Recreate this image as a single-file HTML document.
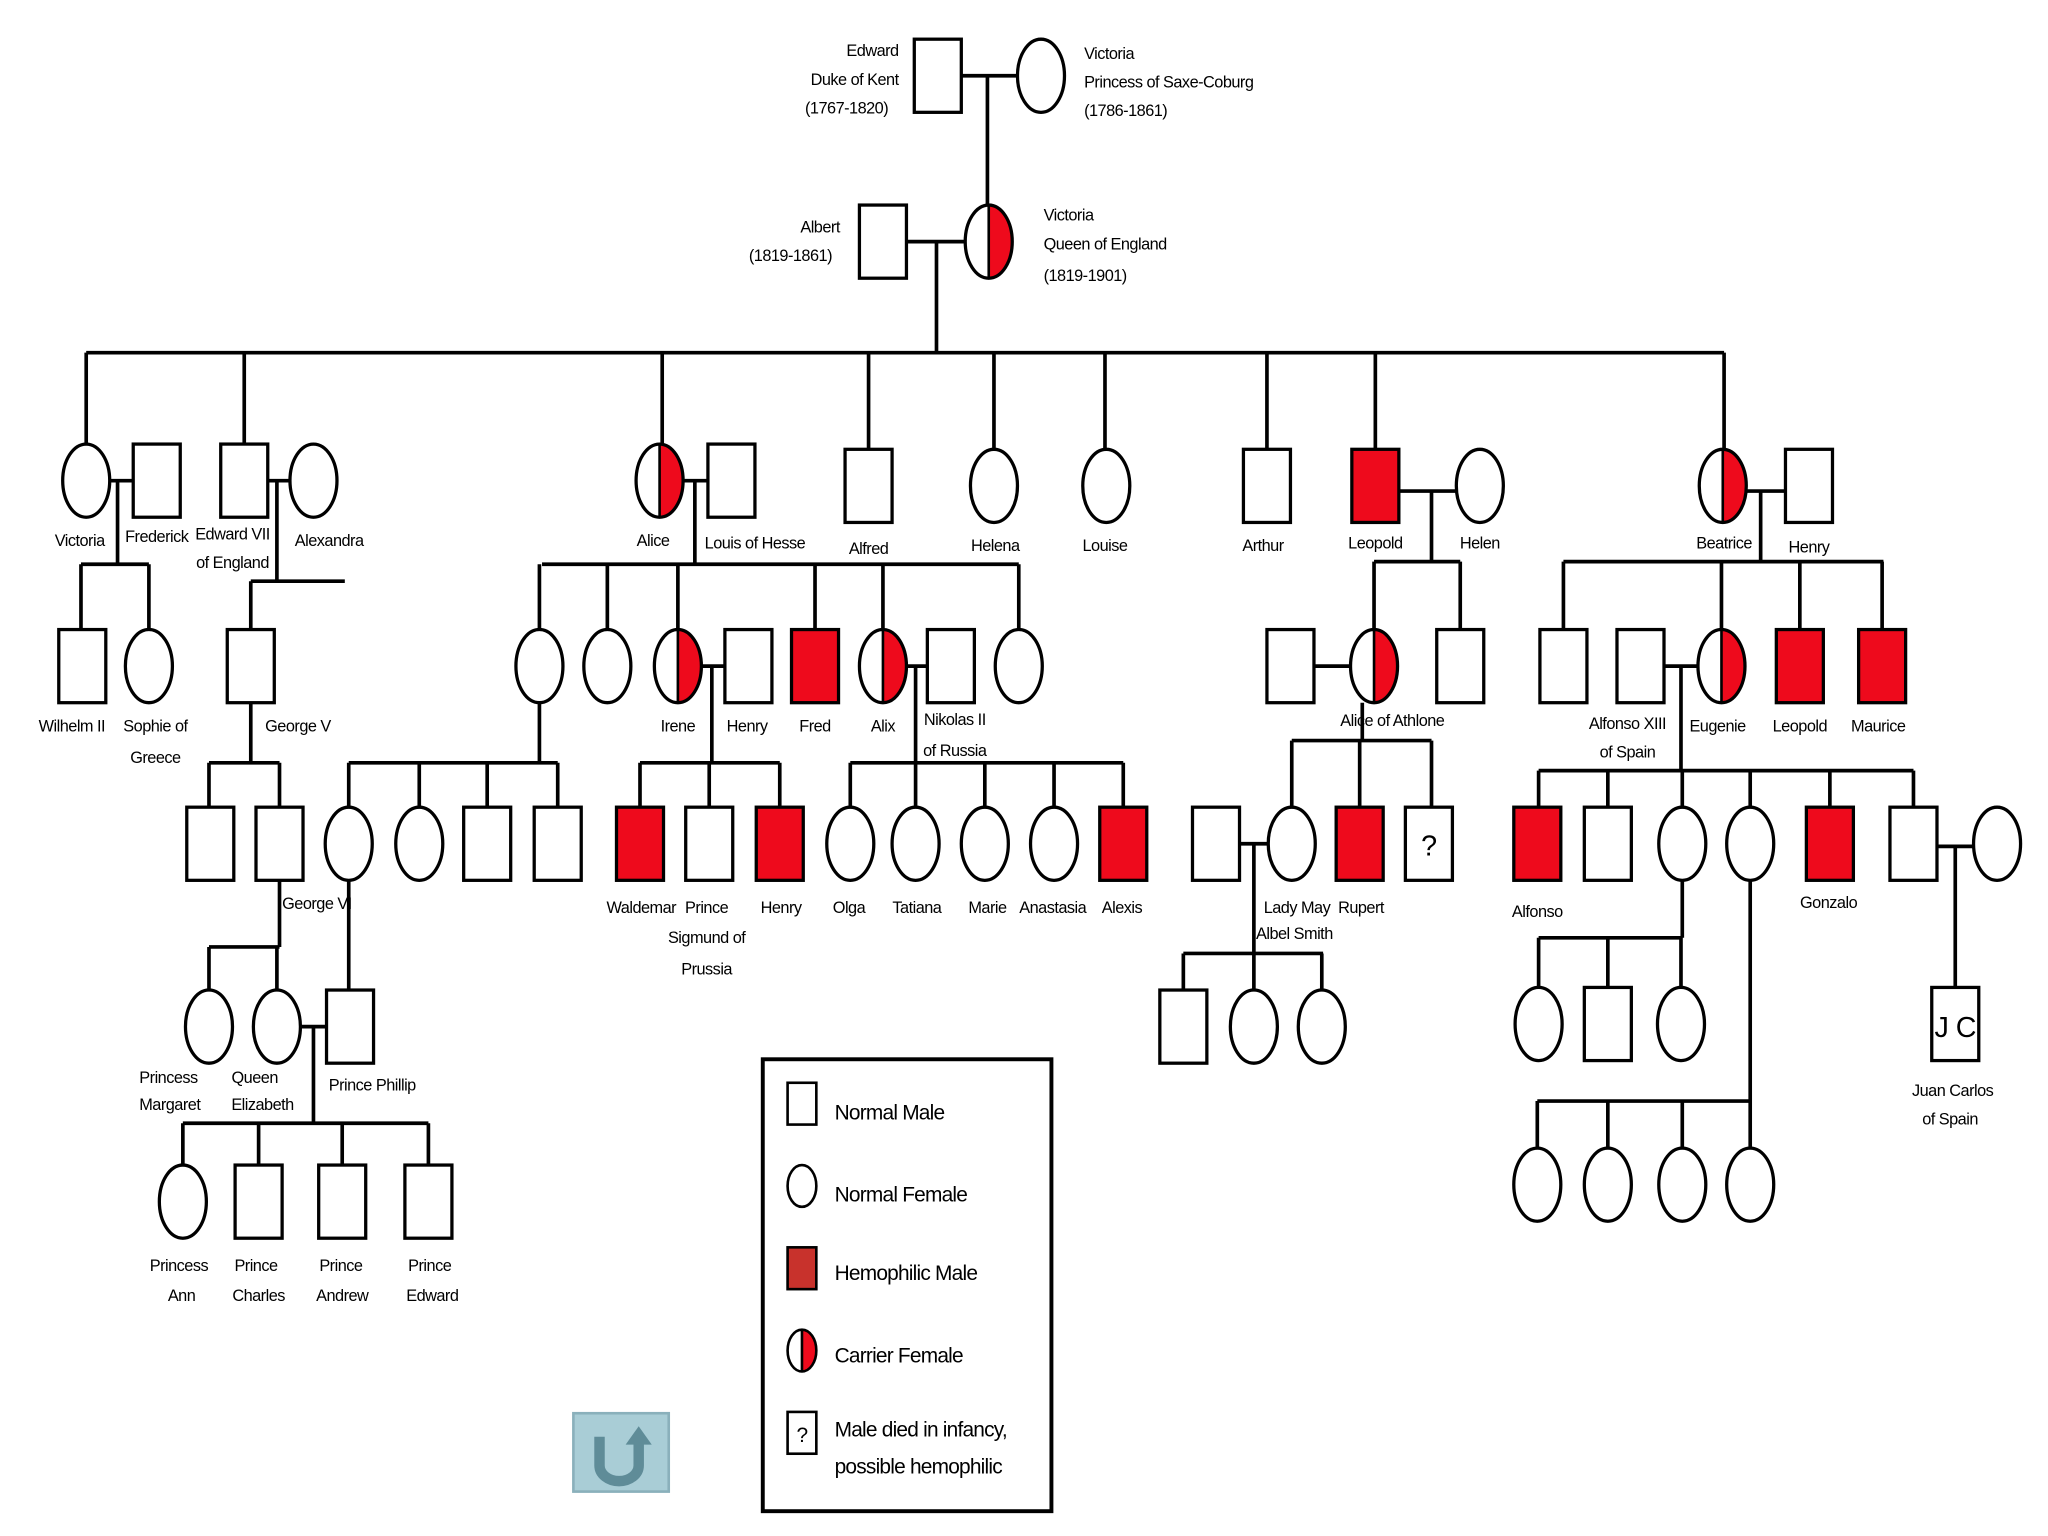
<!DOCTYPE html>
<html><head><meta charset="utf-8"><style>
html,body{margin:0;padding:0;background:#fff;}
svg{display:block;}
text{font-family:"Liberation Sans",sans-serif;font-size:12.5px;letter-spacing:-0.4px;fill:#000;}
.m{text-anchor:middle}
.e{text-anchor:end}
.lg{font-size:16px;letter-spacing:-0.6px}
</style></head><body>
<svg width="2048" height="1536" viewBox="0 0 1568 1176" xmlns="http://www.w3.org/2000/svg">
<defs>
<g id="sq"><rect x="-18" y="-28" width="36" height="56" fill="#fff" stroke="#000" stroke-width="2.5"/></g>
<g id="rsq"><rect x="-18" y="-28" width="36" height="56" fill="#ee0a1c" stroke="#000" stroke-width="2.5"/></g>
<g id="ci"><ellipse rx="18" ry="28" fill="#fff" stroke="#000" stroke-width="2.5"/></g>
<g id="ca"><ellipse rx="18" ry="28" fill="#fff"/><path d="M0,-28 A18,28 0 0 1 0,28 Z" fill="#ee0a1c"/><line x1="0" y1="-28" x2="0" y2="28" stroke="#000" stroke-width="2"/><ellipse rx="18" ry="28" fill="none" stroke="#000" stroke-width="2.5"/></g>
</defs>
<g stroke="#000" stroke-width="2.8" fill="none">
<path d="M736,58H779M756,58V157"/>
<path d="M694,185H739M717,185V270M66,270H1320"/>
<path d="M66,270V340M187,270V340M507,270V340M665,270V344M761,270V344M846,270V344M970,270V344M1053,270V344M1320,270V344"/>
<path d="M84,368H102M90,368V432M62,432H114M62,432V482M114,432V482"/>
<path d="M205,368H222M212,368V445M192,445H264M192,445V482M192,538V584M160,584H214M160,584V618M214,584V618"/>
<path d="M214,674V725M160,725H214M160,725V758M212,725V758M230,786H250M240,786V860M140,860H328M140,860V892M198,860V892M262,860V892M328,860V892"/>
<path d="M523,368H542M532,368V432M415,432H780M413,432V482M465,432V482M519,432V482M624,432V482M676,432V482M780,432V482"/>
<path d="M413,538V584M267,584H427M267,584V618M321,584V618M373,584V618M427,584V618M267,674V758"/>
<path d="M537,510H555M545,510V584M490,584H597M490,584V618M543,584V618M597,584V618"/>
<path d="M694,510H710M701,510V584M651,584H860M651,584V618M701,584V618M754,584V618M807,584V618M860,584V618"/>
<path d="M1071,376H1115M1096,376V430M1052,430H1118M1052,430V482M1118,430V482"/>
<path d="M1006,510H1034M1043,538V567M989,567H1096M989,567V618M1041,567V618M1096,567V618"/>
<path d="M949,646H971M960,646V730M906,730H1013M906,730V758M960,730V758M1012,730V758"/>
<path d="M1337,376H1367M1348,376V430M1197,430H1442M1197,430V482M1318,430V482M1378,430V482M1441,430V482"/>
<path d="M1274,510H1300M1287,510V590M1178,590H1465M1178,590V618M1231,590V618M1288,590V618M1340,590V618M1401,590V618M1465,590V618"/>
<path d="M1483,648H1511M1497,648V756"/>
<path d="M1288,674V718M1178,718H1288M1178,718V756M1231,718V756M1287,718V756"/>
<path d="M1340,674V843M1177,843H1340M1177,843V879M1231,843V879M1288,843V879M1340,843V879"/>
</g>
<use href="#sq" x="718" y="58"/><use href="#ci" x="797" y="58"/>
<use href="#sq" x="676" y="185"/><use href="#ca" x="757" y="185"/>
<use href="#ci" x="66" y="368"/><use href="#sq" x="120" y="368"/>
<use href="#sq" x="187" y="368"/><use href="#ci" x="240" y="368"/>
<use href="#sq" x="63" y="510"/><use href="#ci" x="114" y="510"/>
<use href="#sq" x="192" y="510"/>
<use href="#sq" x="161" y="646"/><use href="#sq" x="214" y="646"/>
<use href="#ci" x="160" y="786"/><use href="#ci" x="212" y="786"/><use href="#sq" x="268" y="786"/>
<use href="#ci" x="140" y="920"/><use href="#sq" x="198" y="920"/><use href="#sq" x="262" y="920"/><use href="#sq" x="328" y="920"/>
<use href="#ca" x="505" y="368"/><use href="#sq" x="560" y="368"/>
<use href="#sq" x="665" y="372"/><use href="#ci" x="761" y="372"/><use href="#ci" x="847" y="372"/>
<use href="#sq" x="970" y="372"/><use href="#rsq" x="1053" y="372"/><use href="#ci" x="1133" y="372"/>
<use href="#ca" x="1319" y="372"/><use href="#sq" x="1385" y="372"/>
<use href="#ci" x="413" y="510"/><use href="#ci" x="465" y="510"/><use href="#ca" x="519" y="510"/><use href="#sq" x="573" y="510"/>
<use href="#rsq" x="624" y="510"/><use href="#ca" x="676" y="510"/><use href="#sq" x="728" y="510"/><use href="#ci" x="780" y="510"/>
<use href="#ci" x="267" y="646"/><use href="#ci" x="321" y="646"/><use href="#sq" x="373" y="646"/><use href="#sq" x="427" y="646"/>
<use href="#rsq" x="490" y="646"/><use href="#sq" x="543" y="646"/><use href="#rsq" x="597" y="646"/>
<use href="#ci" x="651" y="646"/><use href="#ci" x="701" y="646"/><use href="#ci" x="754" y="646"/><use href="#ci" x="807" y="646"/><use href="#rsq" x="860" y="646"/>
<use href="#sq" x="988" y="510"/><use href="#ca" x="1052" y="510"/><use href="#sq" x="1118" y="510"/>
<use href="#sq" x="931" y="646"/><use href="#ci" x="989" y="646"/><use href="#rsq" x="1041" y="646"/><use href="#sq" x="1094" y="646"/>
<text x="1094" y="655" class="m" style="font-size:22px">?</text>
<use href="#sq" x="906" y="786"/><use href="#ci" x="960" y="786"/><use href="#ci" x="1012" y="786"/>
<use href="#sq" x="1197" y="510"/><use href="#sq" x="1256" y="510"/><use href="#ca" x="1318" y="510"/><use href="#rsq" x="1378" y="510"/><use href="#rsq" x="1441" y="510"/>
<use href="#rsq" x="1177" y="646"/><use href="#sq" x="1231" y="646"/><use href="#ci" x="1288" y="646"/><use href="#ci" x="1340" y="646"/><use href="#rsq" x="1401" y="646"/><use href="#sq" x="1465" y="646"/><use href="#ci" x="1529" y="646"/>
<use href="#sq" x="1497" y="784"/><text x="1497" y="794" class="m" style="font-size:22px">J C</text>
<use href="#ci" x="1178" y="784"/><use href="#sq" x="1231" y="784"/><use href="#ci" x="1287" y="784"/>
<use href="#ci" x="1177" y="907"/><use href="#ci" x="1231" y="907"/><use href="#ci" x="1288" y="907"/><use href="#ci" x="1340" y="907"/>
<text x="688" y="43" class="e">Edward</text><text x="688" y="65" class="e">Duke of Kent</text><text x="680" y="87" class="e">(1767-1820)</text>
<text x="830" y="45">Victoria</text><text x="830" y="67">Princess of Saxe-Coburg</text><text x="830" y="89">(1786-1861)</text>
<text x="643" y="178" class="e">Albert</text><text x="637" y="200" class="e">(1819-1861)</text>
<text x="799" y="169">Victoria</text><text x="799" y="191">Queen of England</text><text x="799" y="215">(1819-1901)</text>
<text x="61" y="418" class="m">Victoria</text><text x="120" y="415" class="m">Frederick</text>
<text x="178" y="413" class="m">Edward VII</text><text x="178" y="435" class="m">of England</text><text x="252" y="418" class="m">Alexandra</text>
<text x="55" y="560" class="m">Wilhelm II</text><text x="119" y="560" class="m">Sophie of</text><text x="119" y="584" class="m">Greece</text>
<text x="203" y="560">George V</text><text x="216" y="696">George VI</text>
<text x="500" y="418" class="m">Alice</text><text x="578" y="420" class="m">Louis of Hesse</text><text x="665" y="424" class="m">Alfred</text>
<text x="762" y="422" class="m">Helena</text><text x="846" y="422" class="m">Louise</text><text x="967" y="422" class="m">Arthur</text>
<text x="1053" y="420" class="m">Leopold</text><text x="1133" y="420" class="m">Helen</text><text x="1320" y="420" class="m">Beatrice</text><text x="1385" y="423" class="m">Henry</text>
<text x="519" y="560" class="m">Irene</text><text x="572" y="560" class="m">Henry</text><text x="624" y="560" class="m">Fred</text><text x="676" y="560" class="m">Alix</text>
<text x="731" y="555" class="m">Nikolas II</text><text x="731" y="579" class="m">of Russia</text>
<text x="491" y="699" class="m">Waldemar</text><text x="541" y="699" class="m">Prince</text><text x="541" y="722" class="m">Sigmund of</text><text x="541" y="746" class="m">Prussia</text>
<text x="598" y="699" class="m">Henry</text><text x="650" y="699" class="m">Olga</text><text x="702" y="699" class="m">Tatiana</text><text x="756" y="699" class="m">Marie</text><text x="806" y="699" class="m">Anastasia</text><text x="859" y="699" class="m">Alexis</text>
<text x="1066" y="556" class="m">Alice of Athlone</text>
<text x="993" y="699" class="m">Lady May</text><text x="991" y="719" class="m">Albel Smith</text><text x="1042" y="699" class="m">Rupert</text>
<text x="1246" y="558" class="m">Alfonso XIII</text><text x="1246" y="580" class="m">of Spain</text><text x="1315" y="560" class="m">Eugenie</text><text x="1378" y="560" class="m">Leopold</text><text x="1438" y="560" class="m">Maurice</text>
<text x="1177" y="702" class="m">Alfonso</text><text x="1400" y="695" class="m">Gonzalo</text>
<text x="1495" y="839" class="m">Juan Carlos</text><text x="1493" y="861" class="m">of Spain</text>
<text x="129" y="829" class="m">Princess</text><text x="130" y="850" class="m">Margaret</text><text x="195" y="829" class="m">Queen</text><text x="201" y="850" class="m">Elizabeth</text>
<text x="285" y="835" class="m">Prince Phillip</text>
<text x="137" y="973" class="m">Princess</text><text x="139" y="996" class="m">Ann</text>
<text x="196" y="973" class="m">Prince</text><text x="198" y="996" class="m">Charles</text>
<text x="261" y="973" class="m">Prince</text><text x="262" y="996" class="m">Andrew</text>
<text x="329" y="973" class="m">Prince</text><text x="331" y="996" class="m">Edward</text>
<rect x="584" y="811" width="221" height="346" fill="none" stroke="#000" stroke-width="3"/>
<rect x="603" y="829" width="22" height="32" fill="#fff" stroke="#000" stroke-width="2"/>
<text x="639" y="857" class="lg">Normal Male</text>
<ellipse cx="614" cy="908" rx="11" ry="16" fill="#fff" stroke="#000" stroke-width="2"/>
<text x="639" y="920" class="lg">Normal Female</text>
<rect x="603" y="955" width="22" height="32" fill="#c8322c" stroke="#000" stroke-width="2"/>
<text x="639" y="980" class="lg">Hemophilic Male</text>
<path d="M614,1018 A11,16 0 0 1 614,1050 Z" fill="#ee0a1c"/>
<ellipse cx="614" cy="1034" rx="11" ry="16" fill="none" stroke="#000" stroke-width="2"/><line x1="614" y1="1018" x2="614" y2="1050" stroke="#000" stroke-width="2"/>
<text x="639" y="1043" class="lg">Carrier Female</text>
<rect x="603" y="1081" width="22" height="32" fill="#fff" stroke="#000" stroke-width="2"/>
<text x="614" y="1104" class="m lg">?</text>
<text x="639" y="1100" class="lg">Male died in infancy,</text><text x="639" y="1128" class="lg">possible hemophilic</text>
<rect x="439" y="1082" width="73" height="60" fill="#a9cdd6" stroke="#8ab0bb" stroke-width="2"/>
<path d="M459,1100 V1122 A15,12 0 0 0 489,1122 V1105" fill="none" stroke="#5f8c98" stroke-width="8"/>
<path d="M479,1106 L489,1092 L499,1106 Z" fill="#5f8c98"/>
</svg>
</body></html>
